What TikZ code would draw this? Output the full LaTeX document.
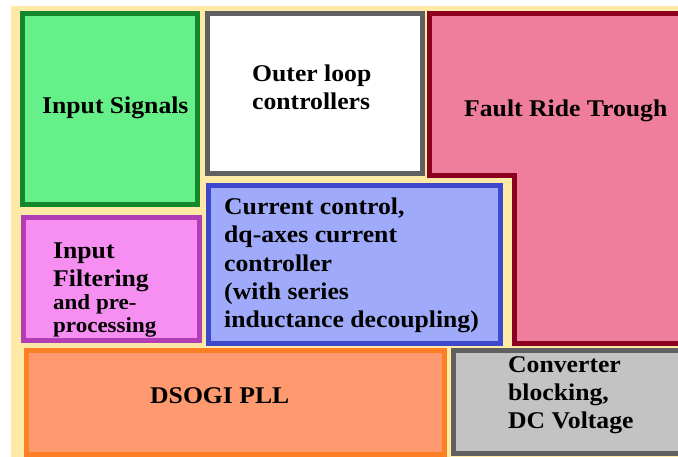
\documentclass[tikz,border=0pt]{standalone}
\usepackage{fontspec}
\setmainfont{Liberation Serif}[FakeStretch=1.07]
\definecolor{paneBg}{RGB}{255,233,166}
\definecolor{inFill}{RGB}{102,240,138}
\definecolor{inLine}{RGB}{20,135,45}
\definecolor{grayLine}{RGB}{96,96,96}
\definecolor{frtFill}{RGB}{238,126,155}
\definecolor{frtLine}{RGB}{140,0,32}
\definecolor{ccFill}{RGB}{160,170,250}
\definecolor{ccLine}{RGB}{62,72,204}
\definecolor{filtFill}{RGB}{247,143,242}
\definecolor{filtLine}{RGB}{178,61,181}
\definecolor{pllFill}{RGB}{255,154,112}
\definecolor{pllLine}{RGB}{255,127,39}
\definecolor{blkFill}{RGB}{195,195,195}
\tikzset{
  blockbox/.style={line width=5pt, line join=miter},
  lbl/.style={anchor=base west, inner sep=0pt, font=\fontsize{24}{28}\selectfont\bfseries},
  lblsmall/.style={lbl, font=\fontsize{21.5}{25}\selectfont\bfseries}
}
\begin{document}
\begin{tikzpicture}[x=1pt,y=-1pt]
  \useasboundingbox (0,0) rectangle (678,457);
  \clip (0,0) rectangle (678,457);
  % backdrop
  \fill[white] (0,0) rectangle (678,457);
  \fill[paneBg] (11,6) rectangle (690,470);
  % blocks (outer edges minus half the line width)
  \draw[blockbox, draw=inLine, fill=inFill] (22.5,13.5) rectangle (197.5,204.5);
  \draw[blockbox, draw=grayLine, fill=white] (207.5,13.5) rectangle (422.5,173.5);
  \draw[blockbox, draw=frtLine, fill=frtFill]
    (429.5,13.5) -- (700,13.5) -- (700,343.5) -- (514.5,343.5)
    -- (514.5,175.5) -- (429.5,175.5) -- cycle;
  \draw[blockbox, draw=ccLine, fill=ccFill] (208.5,185.5) rectangle (500.5,343.5);
  \draw[blockbox, draw=filtLine, fill=filtFill] (23.5,217.5) rectangle (199.5,340.5);
  \draw[blockbox, draw=pllLine, fill=pllFill] (26.5,350.5) rectangle (444.5,454.5);
  \draw[blockbox, draw=grayLine, fill=blkFill] (453.5,350.5) rectangle (700,453.5);
  % labels
  \node[lbl] (sig) at (42,114) {Input Signals};
  \node[lbl] (outerA) at (252,82) {Outer loop};
  \node[lbl] (outerB) at (252,110) {controllers};
  \node[lbl] (frt) at (464,117) {Fault Ride Trough};
  \node[lbl] (ccA) at (224,215) {Current control,};
  \node[lbl] (ccB) at (224,243) {dq-axes current};
  \node[lbl] (ccC) at (224,272) {controller};
  \node[lbl] (ccD) at (224,300) {(with series};
  \node[lbl] (ccE) at (224,328) {inductance decoupling)};
  \node[lbl] (filtA) at (53,259) {Input};
  \node[lbl] (filtB) at (53,287) {Filtering};
  \node[lblsmall] (filtC) at (53,309) {and pre-};
  \node[lblsmall] (filtD) at (53,333) {processing};
  \node[lbl] (pll) at (150,403) {DSOGI PLL};
  \node[lbl] (blkA) at (508,372) {Converter};
  \node[lbl] (blkB) at (508,400) {blocking,};
  \node[lbl] (blkC) at (508,428) {DC Voltage};
\end{tikzpicture}
\end{document}
